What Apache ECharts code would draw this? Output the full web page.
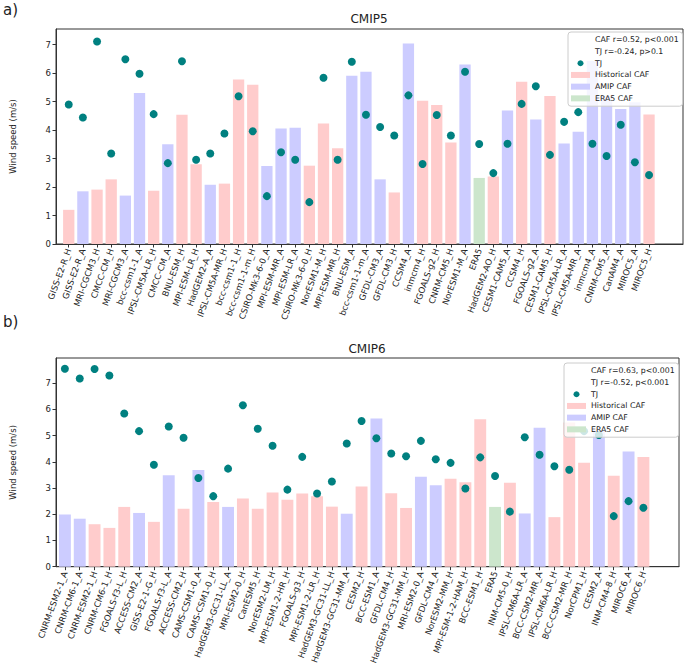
<!DOCTYPE html>
<html>
<head>
<meta charset="utf-8">
<script src="https://cdn.jsdelivr.net/npm/echarts@6/dist/echarts.min.js"></script>
<style>html,body{margin:0;padding:0;background:#fff}#c{width:685px;height:667px}</style>
</head>
<body>
<div id="c"></div>
<script>
// ---------- DATA ----------
const cmip5Models = ["GISS-E2-R_H","GISS-E2-R_A","MRI-CGCM3_H","CMCC-CM_H","MRI-CGCM3_A","bcc-csm1-1_A","IPSL-CM5A-LR_H","CMCC-CM_A","BNU-ESM_H","MPI-ESM-LR_H","HadGEM2-A_A","IPSL-CM5A-MR_H","bcc-csm1-1_H","bcc-csm1-1-m_H","CSIRO-Mk3-6-0_A","MPI-ESM-MR_A","MPI-ESM-LR_A","CSIRO-Mk3-6-0_H","NorESM1-M_H","MPI-ESM-MR_H","BNU-ESM_A","bcc-csm1-1-m_A","GFDL-CM3_A","GFDL-CM3_H","CCSM4_A","inmcm4_H","FGOALS-g2_H","CNRM-CM5_H","NorESM1-M_A","ERA5","HadGEM2-AO_H","CESM1-CAM5_A","CCSM4_H","FGOALS-g2_A","CESM1-CAM5_H","IPSL-CM5A-LR_A","IPSL-CM5A-MR_A","inmcm4_A","CNRM-CM5_A","CanAM4_A","MIROC5_A","MIROC5_H"];
const cmip5CAF = [1.20,1.85,1.91,2.27,1.70,5.30,1.87,3.50,4.54,2.80,2.08,2.12,5.78,5.59,2.74,4.06,4.08,2.75,4.23,3.36,5.91,6.05,2.27,1.81,7.04,5.03,4.88,3.56,6.30,2.32,2.37,4.69,5.70,4.37,5.20,3.53,3.94,6.43,5.20,4.74,4.98,4.55];
const cmip5TJ = [4.90,4.44,7.11,3.18,6.49,5.98,4.56,2.84,6.42,2.96,3.18,3.88,5.19,3.96,1.68,3.22,2.96,1.47,5.84,2.96,6.40,4.54,4.11,3.81,5.22,2.81,4.53,3.81,6.05,3.51,2.49,3.52,4.92,5.54,3.13,4.29,4.63,3.52,3.09,4.19,2.87,2.42];
const cmip5Stats = ["CAF r=0.52, p<0.001","TJ r=-0.24, p>0.1"];

const cmip6Models = ["CNRM-ESM2-1_A","CNRM-CM6-1_A","CNRM-ESM2-1_H","CNRM-CM6-1_H","FGOALS-f3-L_H","ACCESS-CM2_A","GISS-E2-1-G_H","FGOALS-f3-L_A","ACCESS-CM2_H","CAMS-CSM1-0_A","CAMS-CSM1-0_H","HadGEM3-GC31-LL_A","MRI-ESM2-0_H","CanESM5_H","NorESM2-LM_H","MPI-ESM1-2-HR_H","FGOALS-g3_H","MPI-ESM1-2-LR_H","HadGEM3-GC31-LL_H","HadGEM3-GC31-MM_A","CESM2_H","BCC-ESM1_A","GFDL-CM4_H","HadGEM3-GC31-MM_H","MRI-ESM2-0_A","GFDL-CM4_A","NorESM2-MM_H","MPI-ESM-1-2-HAM_H","BCC-ESM1_H","ERA5","INM-CM5-0_H","IPSL-CM6A-LR_A","BCC-CSM2-MR_A","IPSL-CM6A-LR_H","BCC-CSM2-MR_H","NorCPM1_H","CESM2_A","INM-CM4-8_H","MIROC6_A","MIROC6_H"];
const cmip6CAF = [1.99,1.83,1.62,1.48,2.28,2.05,1.71,3.49,2.21,3.69,2.47,2.28,2.60,2.21,2.83,2.55,2.79,2.69,2.29,2.02,3.06,5.65,2.80,2.24,3.43,3.11,3.35,3.22,5.62,2.28,3.20,2.03,5.30,1.89,5.50,3.96,5.20,3.47,4.39,4.18];
const cmip6TJ = [7.55,7.18,7.54,7.29,5.84,5.17,3.89,5.35,4.92,3.38,2.69,3.74,6.16,5.26,4.61,2.94,4.19,2.79,3.25,4.70,5.56,4.90,4.32,4.21,4.80,4.10,3.96,2.98,4.17,3.46,2.10,4.94,4.27,3.83,3.70,5.17,5.02,1.93,2.50,2.25];
const cmip6Stats = ["CAF r=0.63, p<0.001","TJ r=-0.52, p<0.001"];

const yTicks5 = [0,1,2,3,4,5,6,7];
const yTicks6 = [0,1,2,3,4,5,6,7,8];

// ---------- BUILD ----------
const FONT = 'DejaVu Sans';
const C_H = '#ffcccc', C_A = '#ccccff', C_E = '#cce6cc', C_TJ = '#008080';
const AX = '#333';

function group(name){ return name === 'ERA5' ? 'E' : (name.endsWith('_A') ? 'A' : 'H'); }
function barData(models, vals, g){
  const out = [];
  models.forEach((m,i)=>{ if(group(m)===g) out.push([i, vals[i]]); });
  return out;
}
function pts(vals){ return vals.map((v,i)=>[i,v]); }
function idx(n){ return Array.from({length:n},(_,i)=>i); }

function xAxisFor(gi, models, min, max){
  return {
    gridIndex: gi, type:'value', min:min, max:max,
    axisLine:{show:true, onZero:false, lineStyle:{color:AX, width:1}},
    axisTick:{show:true, customValues: idx(models.length), length:3.5, lineStyle:{color:AX}},
    axisLabel:{customValues: idx(models.length), formatter: v => models[v] || '', rotate:70,
      fontSize:8.5, fontFamily:FONT, color:'#222', margin:5},
    splitLine:{show:false}
  };
}
function yAxisFor(gi, max, ticks){
  return {
    gridIndex: gi, type:'value', min:0, max:max,
    axisLine:{show:true, onZero:false, lineStyle:{color:AX, width:1}},
    axisTick:{show:true, customValues: ticks, length:3.5, lineStyle:{color:AX}},
    axisLabel:{customValues: ticks, fontSize:8.5, fontFamily:FONT, color:'#222', margin:5},
    splitLine:{show:false},
    name:'Wind speed (m/s)', nameLocation:'middle', nameGap:39,
    nameTextStyle:{fontSize:8.5, fontFamily:FONT, color:'#222'}
  };
}
function seriesFor(k, models, caf, tj, stats, bw){
  const base = {xAxisIndex:k, yAxisIndex:k};
  return [
    Object.assign({type:'bar', name:'Historical CAF', data:barData(models,caf,'H'), barWidth:bw, barGap:'-100%', itemStyle:{color:C_H}, z:2}, base),
    Object.assign({type:'bar', name:'AMIP CAF', data:barData(models,caf,'A'), barWidth:bw, barGap:'-100%', itemStyle:{color:C_A}, z:2}, base),
    Object.assign({type:'bar', name:'ERA5 CAF', data:barData(models,caf,'E'), barWidth:bw, barGap:'-100%', itemStyle:{color:C_E}, z:2}, base),
    Object.assign({type:'scatter', name:'TJ', data:pts(tj), symbol:'circle', symbolSize:8, itemStyle:{color:C_TJ, opacity:1}, z:3}, base),
    Object.assign({type:'line', name:stats[0], data:[], showSymbol:false}, base),
    Object.assign({type:'line', name:stats[1], data:[], showSymbol:false}, base)
  ];
}
function legendFor(stats, left, top){
  return {
    orient:'vertical', left:left, top:top,
    padding:[2,4,2,3], itemGap:0, itemWidth:19, itemHeight:6,
    backgroundColor:'rgba(255,255,255,0.8)', borderColor:'#cccccc', borderWidth:1, borderRadius:3,
    textStyle:{fontSize:7.8, fontFamily:FONT, color:'#222', lineHeight:11.7},
    selectedMode:false,
    data:[
      {name:stats[0], icon:'none'},
      {name:stats[1], icon:'none'},
      {name:'TJ', icon:'circle', itemStyle:{color:C_TJ}},
      {name:'Historical CAF', icon:'rect', itemStyle:{color:C_H}},
      {name:'AMIP CAF', icon:'rect', itemStyle:{color:C_A}},
      {name:'ERA5 CAF', icon:'rect', itemStyle:{color:C_E}}
    ]
  };
}

const chart = echarts.init(document.getElementById('c'), null, {renderer:'svg'});
chart.setOption({
  animation:false,
  backgroundColor:'#fff',
  title:[
    {text:'a)', left:3, top:2, padding:0, textStyle:{fontSize:15, fontWeight:'normal', fontFamily:FONT, color:'#222'}},
    {text:'CMIP5', left:369, top:13, padding:0, textAlign:'center', textStyle:{fontSize:12, fontWeight:'normal', fontFamily:FONT, color:'#222'}},
    {text:'b)', left:3, top:314, padding:0, textStyle:{fontSize:15, fontWeight:'normal', fontFamily:FONT, color:'#222'}},
    {text:'CMIP6', left:367, top:343, padding:0, textAlign:'center', textStyle:{fontSize:12, fontWeight:'normal', fontFamily:FONT, color:'#222'}}
  ],
  grid:[
    {left:55, top:29, width:628, height:215, show:true, borderColor:AX, borderWidth:1, backgroundColor:'transparent'},
    {left:55, top:358, width:624, height:216, show:true, borderColor:AX, borderWidth:1, backgroundColor:'transparent'}
  ],
  xAxis:[ xAxisFor(0, cmip5Models, -0.9, 43.4), xAxisFor(1, cmip6Models, -0.6, 41.4) ],
  yAxis:[ yAxisFor(0, 7.55, yTicks5), yAxisFor(1, 7.96, yTicks6) ],
  legend:[ legendFor(cmip5Stats, 568, 32), legendFor(cmip6Stats, 564, 363) ],
  series:[].concat(
    seriesFor(0, cmip5Models, cmip5CAF, cmip5TJ, cmip5Stats, 11.3),
    seriesFor(1, cmip6Models, cmip6CAF, cmip6TJ, cmip6Stats, 11.9)
  )
});
</script>
</body>
</html>
